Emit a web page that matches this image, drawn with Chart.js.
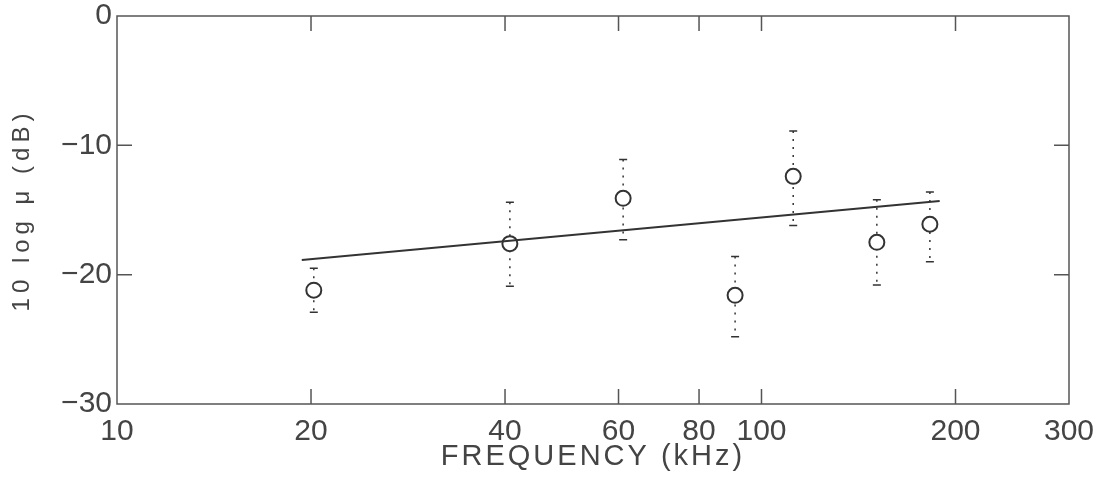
<!DOCTYPE html>
<html>
<head>
<meta charset="utf-8">
<script src="https://cdn.jsdelivr.net/npm/chart.js@4.4.0/dist/chart.umd.min.js"></script>
<style>
html, body { margin: 0; background: #fff; }
#wrap { width: 1105px; height: 491px; }
</style>
</head>
<body>
<div id="wrap"><canvas id="myChart"></canvas></div>
<script>
// measured points (kHz, dB)
const freq = [20.2, 40.7, 61, 91, 112, 151, 182.5];
const level = [-21.2, -17.6, -14.1, -21.6, -12.4, -17.5, -16.1];
const errHigh = [-19.5, -14.4, -11.1, -18.6, -8.9, -14.2, -13.6];
const errLow = [-22.9, -20.9, -17.3, -24.8, -16.2, -20.8, -19.0];

// regression line ends
const fitFreq = [19.35, 189];
const fitLevel = [-18.87, -14.3];

const xTicks = [10, 20, 40, 60, 80, 100, 200, 300];
const yTicks = [0, -10, -20, -30];
const xInnerTicks = [20, 40, 60, 80, 100, 200];
const yInnerTicks = [-10, -20];

const ink = '#333';
const textInk = '#444';

// the scanned figure has widely spaced axis titles
function spacedTitle(spacing) {
  return function (s) {
    s.paddingTop = 0; s.paddingBottom = 0; s.paddingLeft = 0; s.paddingRight = 0;
    if (s._spaced) return;
    const draw = s.drawTitle.bind(s);
    s.drawTitle = function () {
      this.ctx.save();
      this.ctx.letterSpacing = spacing;
      draw();
      this.ctx.restore();
    };
    s._spaced = true;
  };
}

const errorBars = {
  id: 'errorBars',
  beforeDatasetsDraw(chart) {
    const x = chart.scales.x, y = chart.scales.y;
    const ctx = chart.ctx;
    ctx.save();
    ctx.strokeStyle = ink;
    ctx.lineWidth = 1.5;
    freq.forEach((f, i) => {
      const px = x.getPixelForValue(f);
      const top = y.getPixelForValue(errHigh[i]);
      const bot = y.getPixelForValue(errLow[i]);
      ctx.setLineDash([2, 6]);
      ctx.beginPath();
      ctx.moveTo(px, top);
      ctx.lineTo(px, bot);
      ctx.stroke();
      ctx.setLineDash([]);
      ctx.beginPath();
      ctx.moveTo(px - 4, top); ctx.lineTo(px + 4, top);
      ctx.moveTo(px - 4, bot); ctx.lineTo(px + 4, bot);
      ctx.stroke();
    });
    ctx.restore();
  }
};

const frame = {
  id: 'frame',
  afterDraw(chart) {
    const a = chart.chartArea;
    const x = chart.scales.x, y = chart.scales.y;
    const ctx = chart.ctx;
    ctx.save();
    ctx.strokeStyle = '#555';
    ctx.lineWidth = 1.5;
    ctx.strokeRect(a.left, a.top, a.right - a.left, a.bottom - a.top);
    ctx.beginPath();
    xInnerTicks.forEach(v => {
      const px = x.getPixelForValue(v);
      ctx.moveTo(px, a.bottom); ctx.lineTo(px, a.bottom - 15);
      ctx.moveTo(px, a.top); ctx.lineTo(px, a.top + 15);
    });
    yInnerTicks.forEach(v => {
      const py = y.getPixelForValue(v);
      ctx.moveTo(a.left, py); ctx.lineTo(a.left + 15, py);
      ctx.moveTo(a.right, py); ctx.lineTo(a.right - 15, py);
    });
    ctx.stroke();
    ctx.restore();
  }
};

const ctx = document.getElementById('myChart').getContext('2d');
const chart = new Chart(ctx, {
  type: 'scatter',
  data: {
    datasets: [
      {
        label: 'fit',
        data: fitFreq.map((f, i) => ({ x: f, y: fitLevel[i] })),
        showLine: true,
        borderColor: ink,
        borderWidth: 2,
        pointRadius: 0
      },
      {
        label: 'measured',
        data: freq.map((f, i) => ({ x: f, y: level[i] })),
        pointRadius: 7.5,
        pointBorderWidth: 2,
        pointBorderColor: ink,
        pointBackgroundColor: '#fff'
      }
    ]
  },
  options: {
    responsive: true,
    maintainAspectRatio: false,
    animation: false,
    layout: { padding: { top: 16, right: 36, left: 0, bottom: 0 } },
    plugins: { legend: { display: false }, tooltip: { enabled: false } },
    scales: {
      x: {
        type: 'logarithmic',
        min: 10,
        max: 300,
        afterBuildTicks(s) { s.ticks = xTicks.map(v => ({ value: v })); },
        afterFit(s) { s.height = 87; spacedTitle('3px')(s); },
        grid: { display: false, drawTicks: false },
        border: { display: false },
        ticks: {
          autoSkip: false,
          maxRotation: 0,
          padding: 10,
          color: textInk,
          font: { family: 'Liberation Sans', size: 30 },
          callback: v => String(v)
        },
        title: {
          display: true,
          text: 'FREQUENCY (kHz)',
          color: textInk,
          font: { family: 'Liberation Sans', size: 29 },
          padding: { top: 0, bottom: 17 }
        }
      },
      y: {
        min: -30,
        max: 0,
        afterBuildTicks(s) { s.ticks = yTicks.map(v => ({ value: v })); },
        afterFit(s) { s.width = 117; spacedTitle('5px')(s); },
        grid: { display: false, drawTicks: false },
        border: { display: false },
        ticks: {
          padding: 5,
          color: textInk,
          font: { family: 'Liberation Sans', size: 30 },
          callback: v => String(v).replace('-', '\u2212')
        },
        title: {
          display: true,
          text: '10 log \u03bc (dB)',
          color: textInk,
          font: { family: 'Liberation Sans', size: 24 },
          padding: { top: 8, bottom: 0 }
        }
      }
    }
  },
  plugins: [errorBars, frame]
});
</script>
</body>
</html>
